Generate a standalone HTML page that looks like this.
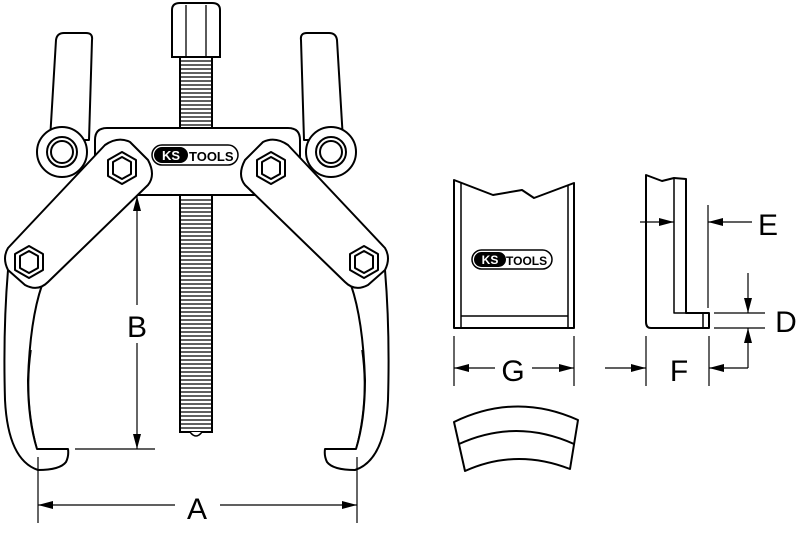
<!DOCTYPE html>
<html><head><meta charset="utf-8"><style>
html,body{margin:0;padding:0;background:#fff;width:800px;height:533px;overflow:hidden}
svg{display:block}
text{font-family:"Liberation Sans",sans-serif}
</style></head><body>
<svg width="800" height="533" viewBox="0 0 800 533" xmlns="http://www.w3.org/2000/svg">
<defs>
<g id="half" fill="#fff" stroke="#000" stroke-width="2" stroke-linejoin="round">
  <path d="M50,140 L56,40 Q57,33 64,33 L86,33 Q93,33 92,40 L89,140 Z"/>
  <path d="M8,270 Q3,330 5,400 Q8,460 38,470 Q60,470 66,462 Q69,456 68,449 L37,449 Q28,420 28,380 Q30,320 42,285 Z"/>
  <path d="M37,449 Q24,400 31,350" fill="none" stroke-width="1.5"/>
  <circle cx="62" cy="152" r="25"/>
  <circle cx="62" cy="152" r="15"/>
  <circle cx="62" cy="152" r="11"/>
  <path d="M105,145 Q118,136 130,142 L148,160 Q156,175 148,185 L48,282 Q38,292 25,285 L8,270 Q2,258 8,248 Z"/>
  <polygon points="122,152 136,160 136,176 122,184 108,176 108,160"/>
  <polygon points="122,157 131,162 131,174 122,179 113,174 113,162"/>
  <polygon points="29,246 43,254 43,270 29,278 15,270 15,254"/>
  <polygon points="29,251 38,256 38,268 29,273 20,268 20,256"/>
</g>
<marker id="ar" viewBox="0 0 15 8" refX="15" refY="4" markerWidth="15" markerHeight="8" orient="auto" markerUnits="userSpaceOnUse"><path d="M0,0 L15,4 L0,8 Z" fill="#000"/></marker>
</defs>

<!-- screw -->
<rect x="180" y="57" width="32" height="375" fill="#fff" stroke="#000" stroke-width="2"/>
<path d="M181,61 h30 M181,65 h30 M181,69 h30 M181,73 h30 M181,77 h30 M181,81 h30 M181,85 h30 M181,89 h30 M181,93 h30 M181,97 h30 M181,101 h30 M181,105 h30 M181,109 h30 M181,113 h30 M181,117 h30 M181,121 h30 M181,125 h30 M181,200 h30 M181,204 h30 M181,208 h30 M181,212 h30 M181,216 h30 M181,220 h30 M181,224 h30 M181,228 h30 M181,232 h30 M181,236 h30 M181,240 h30 M181,244 h30 M181,248 h30 M181,252 h30 M181,256 h30 M181,260 h30 M181,264 h30 M181,268 h30 M181,272 h30 M181,276 h30 M181,280 h30 M181,284 h30 M181,288 h30 M181,292 h30 M181,296 h30 M181,300 h30 M181,304 h30 M181,308 h30 M181,312 h30 M181,316 h30 M181,320 h30 M181,324 h30 M181,328 h30 M181,332 h30 M181,336 h30 M181,340 h30 M181,344 h30 M181,348 h30 M181,352 h30 M181,356 h30 M181,360 h30 M181,364 h30 M181,368 h30 M181,372 h30 M181,376 h30 M181,380 h30 M181,384 h30 M181,388 h30 M181,392 h30 M181,396 h30 M181,400 h30 M181,404 h30 M181,408 h30 M181,412 h30 M181,416 h30 M181,420 h30 M181,424 h30 M181,428 h30" stroke="#000" stroke-width="1.3"/>
<path d="M190,432 Q196,440 202,432" fill="#fff" stroke="#000" stroke-width="1.5"/>
<!-- crossbar -->
<path d="M95,195 L95,140 Q95,128 107,128 L288,128 Q300,128 300,140 L300,195 Z" fill="#fff" stroke="#000" stroke-width="2"/>
<!-- nut -->
<path d="M172,10 Q172,3 180,3 L212,3 Q220,3 220,10 L220,57 L172,57 Z" fill="#fff" stroke="#000" stroke-width="2"/>
<line x1="186" y1="5" x2="186" y2="57" stroke="#000" stroke-width="1.3"/>
<line x1="206" y1="5" x2="206" y2="57" stroke="#000" stroke-width="1.3"/>

<use href="#half"/>
<use href="#half" transform="translate(393,0) scale(-1,1)"/>

<rect x="152" y="145" width="86" height="20" rx="10" fill="#fff" stroke="#000" stroke-width="1.5"/>
<rect x="154" y="147" width="34" height="16" rx="8" fill="#000"/>
<text x="171" y="160" font-size="13" font-weight="bold" fill="#fff" text-anchor="middle">KS</text>
<text x="189" y="161" font-size="13" font-weight="bold" fill="#000">TOOLS</text>

<g stroke="#000" stroke-width="1.2" fill="none">
<line x1="137" y1="305" x2="137" y2="196" marker-end="url(#ar)"/>
<line x1="137" y1="343" x2="137" y2="449" marker-end="url(#ar)"/>
<line x1="75" y1="449" x2="155" y2="449"/>
<line x1="38" y1="457" x2="38" y2="523"/>
<line x1="357" y1="457" x2="357" y2="523"/>
<line x1="175" y1="505" x2="38" y2="505" marker-end="url(#ar)"/>
<line x1="220" y1="505" x2="357" y2="505" marker-end="url(#ar)"/>
</g>
<text x="137" y="337" font-size="30" text-anchor="middle">B</text>
<text x="197" y="519" font-size="30" text-anchor="middle">A</text>

<g fill="#fff" stroke="#000" stroke-width="2" stroke-linejoin="round">
<path d="M454,180 L493,195 L522,190 L534,198 L574,183 L574,328 L454,328 Z"/>
<path d="M461,183 V328 M568,186 V328 M461,316 H568" fill="none" stroke-width="1.5"/>
<path d="M454,422 Q516,392 578,420 L570,469 Q516,448 465,471 Z"/>
<path d="M459,444 Q516,418 574,444" fill="none"/>
<path d="M646,175 L662,181 L674,178 L686,179 L686,313 L709,313 L709,328 L651,328 Q646,328 646,322 Z"/>
<path d="M674,178 V313 H686 M703,313 V328" fill="none" stroke-width="1.5"/>
</g>
<rect x="472" y="250" width="80" height="19" rx="9.5" fill="#fff" stroke="#000" stroke-width="1.5"/>
<rect x="474" y="252" width="32" height="15" rx="7.5" fill="#000"/>
<text x="490" y="264" font-size="12" font-weight="bold" fill="#fff" text-anchor="middle">KS</text>
<text x="506" y="265" font-size="12" font-weight="bold" fill="#000">TOOLS</text>

<g stroke="#000" stroke-width="1.2" fill="none">
<line x1="454" y1="336" x2="454" y2="386"/><line x1="574" y1="336" x2="574" y2="386"/>
<line x1="495" y1="368" x2="454" y2="368" marker-end="url(#ar)"/>
<line x1="532" y1="368" x2="574" y2="368" marker-end="url(#ar)"/>
<line x1="646" y1="336" x2="646" y2="386"/><line x1="709" y1="336" x2="709" y2="386"/>
<line x1="605" y1="368" x2="646" y2="368" marker-end="url(#ar)"/>
<path d="M748,368 H709" marker-end="url(#ar)"/>
<line x1="748" y1="368" x2="748" y2="328" marker-end="url(#ar)"/>
<line x1="748" y1="273" x2="748" y2="313" marker-end="url(#ar)"/>
<line x1="714" y1="313" x2="765" y2="313"/><line x1="714" y1="328" x2="765" y2="328"/>
<line x1="708" y1="205" x2="708" y2="308"/>
<line x1="640" y1="222" x2="674" y2="222" marker-end="url(#ar)"/>
<line x1="752" y1="222" x2="708" y2="222" marker-end="url(#ar)"/>
</g>
<text x="513" y="381" font-size="30" text-anchor="middle">G</text>
<text x="679" y="381" font-size="30" text-anchor="middle">F</text>
<text x="768" y="235" font-size="30" text-anchor="middle">E</text>
<text x="786" y="332" font-size="30" text-anchor="middle">D</text>
</svg>
</body></html>
